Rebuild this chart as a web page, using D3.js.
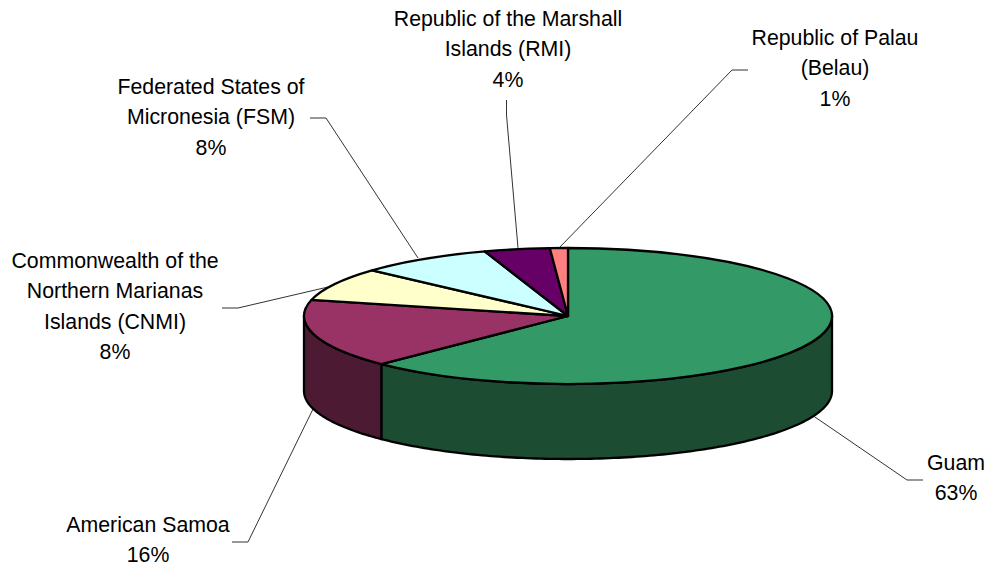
<!DOCTYPE html>
<html><head><meta charset="utf-8">
<script src="https://cdn.jsdelivr.net/npm/d3@7"></script>
<style>html,body{margin:0;padding:0;background:#fff}svg{display:block}text{font-family:"Liberation Sans",Arial,sans-serif;font-size:21.3px;fill:#000;text-anchor:middle}</style>
</head><body><svg id="c" width="989" height="567"></svg>
<script>
// Data
const categories = ["Guam","American Samoa","Commonwealth of the Northern Marianas Islands (CNMI)","Federated States of Micronesia (FSM)","Republic of the Marshall Islands (RMI)","Republic of Palau (Belau)"];
const values = [62.5,16.3,7.9,8.2,4.0,1.1];
const labelLines = [["Guam"],["American Samoa"],["Commonwealth of the","Northern Marianas","Islands (CNMI)"],["Federated States of","Micronesia (FSM)"],["Republic of the Marshall","Islands (RMI)"],["Republic of Palau","(Belau)"]];
const topColors = ["#339966","#993366","#ffffcc","#ccffff","#660066","#ff8080"];
const sideColors = ["#1c4d33","#4d1a33","#80806a","#6a8080","#330033","#804040"];
// Layout of the labels and leaders (label centre, first baseline, elbow and stub)
const labelX = [956,148,115,211,508,835];
const labelY = [470,532,268,94,26,45];
const leaderPts = [
 [[923,480],[907,480],[812,415]],
 [[232,542],[248,542],[313,409]],
 [[222,308],[238,308],[328,287]],
 [[310,118],[326,118],[418,258]],
 [[506.5,100],[506.5,115],[518,248]],
 [[748,70],[732,70],[559,248]]];

const cx=568,cy=316,rx=264,ry=68,depth=75,lineH=30.4;
const svg=d3.select("#c");
const pie=d3.pie().sort(null).value(d=>d).startAngle(0).endAngle(2*Math.PI);
const arcs=pie(values);
const X=d3.scaleLinear().domain([-1,1]).range([cx-rx,cx+rx]);
const Y=d3.scaleLinear().domain([-1,1]).range([cy-ry,cy+ry]);
const px=a=>X(Math.sin(a)), py=a=>Y(-Math.cos(a));
const line=d3.line();
const step=Math.PI/180;

// leaders below everything
const leaders=d3.line();
svg.append("g").selectAll("path").data(leaderPts).join("path")
  .attr("d",d=>leaders(d)).attr("fill","none").attr("stroke","#333").attr("stroke-width",1);

// front wall
const lo=Math.PI/2,hi=3*Math.PI/2;
const walls=svg.append("g");
arcs.forEach((d,i)=>{
  const a0=Math.max(d.startAngle,lo),a1=Math.min(d.endAngle,hi);
  if(a1<=a0) return;
  const as=d3.range(a0,a1,step).concat([a1]);
  const pts=as.map(a=>[px(a),py(a)]).concat(as.slice().reverse().map(a=>[px(a),py(a)+depth]));
  walls.append("path").attr("d",line(pts)+"Z").attr("fill",sideColors[i])
    .attr("stroke","#000").attr("stroke-width",2.3).attr("stroke-linejoin","round");
});

// top face
const arcGen=d3.arc().innerRadius(0).outerRadius(1);
svg.append("g").attr("transform",`translate(${cx},${cy}) scale(${rx},${ry})`)
  .selectAll("path").data(arcs).join("path")
  .attr("d",arcGen).attr("fill",(d,i)=>topColors[i])
  .attr("stroke","#000").attr("stroke-width",2.3).attr("stroke-linejoin","round")
  .attr("vector-effect","non-scaling-stroke");

// labels
const pct=d3.format(".0f");
const lg=svg.append("g");
categories.forEach((c,i)=>{
  const lines=labelLines[i].concat([pct(values[i])+"%"]);
  lines.forEach((t,j)=>{
    lg.append("text").attr("x",labelX[i]).attr("y",labelY[i]+j*lineH).text(t);
  });
});
</script></body></html>
